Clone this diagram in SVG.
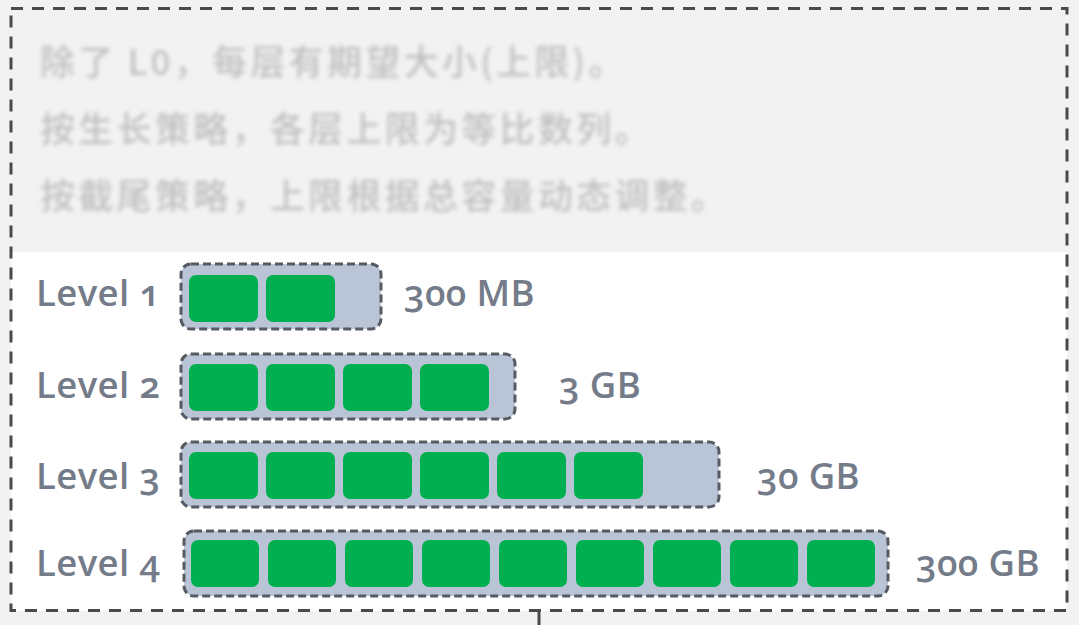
<svg xmlns="http://www.w3.org/2000/svg" width="1079" height="625" viewBox="0 0 1079 625">
<defs>
<style>
.cn{font-family:"Noto Sans CJK SC","Noto Sans",sans-serif;font-size:35px;font-weight:500;fill:#c0c0c0;letter-spacing:3.3px}
.lbl{font-family:"Open Sans","Noto Sans",sans-serif;font-weight:600;font-size:36.5px;fill:#747b89;letter-spacing:0.4px;font-variant-numeric:oldstyle-nums;font-feature-settings:"onum" 1}
.box{fill:#b9c5d7;stroke:#565a62;stroke-width:3;stroke-dasharray:8 4}
.blk{fill:#00b050}
</style>
<filter id="blur" x="-5%" y="-20%" width="110%" height="140%"><feGaussianBlur stdDeviation="1.9"/></filter>
</defs>
<rect x="0" y="0" width="1079" height="625" fill="#f2f2f2"/>
<rect x="11" y="252" width="1056" height="359" fill="#ffffff"/>
<g id="note" filter="url(#blur)">
<text class="cn" x="40" y="75">除了 L0，每层有期望大小(上限)。</text>
<text class="cn" x="40" y="142">按生长策略，各层上限为等比数列。</text>
<text class="cn" x="40" y="209">按截尾策略，上限根据总容量动态调整。</text>
</g>
<g id="level1">
<text class="lbl" x="36" y="306">Level 1</text>
<rect class="box" x="181" y="264" width="200" height="65" rx="10"/>
<rect class="blk" x="189" y="275" width="69" height="47" rx="7"/>
<rect class="blk" x="266" y="275" width="69" height="47" rx="7"/>
<text class="lbl" x="404" y="306">300 MB</text>
</g>
<g id="level2">
<text class="lbl" x="36" y="398">Level 2</text>
<rect class="box" x="181" y="354" width="334" height="65" rx="10"/>
<rect class="blk" x="189" y="364" width="69" height="47" rx="7"/>
<rect class="blk" x="266" y="364" width="69" height="47" rx="7"/>
<rect class="blk" x="343" y="364" width="69" height="47" rx="7"/>
<rect class="blk" x="420" y="364" width="69" height="47" rx="7"/>
<text class="lbl" x="559" y="398">3 GB</text>
</g>
<g id="level3">
<text class="lbl" x="36" y="489">Level 3</text>
<rect class="box" x="181" y="442" width="538" height="65" rx="10"/>
<rect class="blk" x="189" y="452" width="69" height="47" rx="7"/>
<rect class="blk" x="266" y="452" width="69" height="47" rx="7"/>
<rect class="blk" x="343" y="452" width="69" height="47" rx="7"/>
<rect class="blk" x="420" y="452" width="69" height="47" rx="7"/>
<rect class="blk" x="497" y="452" width="69" height="47" rx="7"/>
<rect class="blk" x="574" y="452" width="69" height="47" rx="7"/>
<text class="lbl" x="757" y="489">30 GB</text>
</g>
<g id="level4">
<text class="lbl" x="36" y="576">Level 4</text>
<rect class="box" x="184" y="531" width="704" height="65" rx="10"/>
<rect class="blk" x="191" y="540" width="68" height="47" rx="7"/>
<rect class="blk" x="268" y="540" width="68" height="47" rx="7"/>
<rect class="blk" x="345" y="540" width="68" height="47" rx="7"/>
<rect class="blk" x="422" y="540" width="68" height="47" rx="7"/>
<rect class="blk" x="499" y="540" width="68" height="47" rx="7"/>
<rect class="blk" x="576" y="540" width="68" height="47" rx="7"/>
<rect class="blk" x="653" y="540" width="68" height="47" rx="7"/>
<rect class="blk" x="730" y="540" width="68" height="47" rx="7"/>
<rect class="blk" x="807" y="540" width="68" height="47" rx="7"/>
<text class="lbl" x="916" y="576">300 GB</text>
</g>
<g id="frame">
<rect x="11" y="8.5" width="1056" height="602" fill="none" stroke="#4a4a4a" stroke-width="3" stroke-dasharray="12 9"/>
</g>
<g id="connectors">
<line x1="539" y1="611" x2="539" y2="625" stroke="#4a4a4a" stroke-width="3"/>
</g>
</svg>
